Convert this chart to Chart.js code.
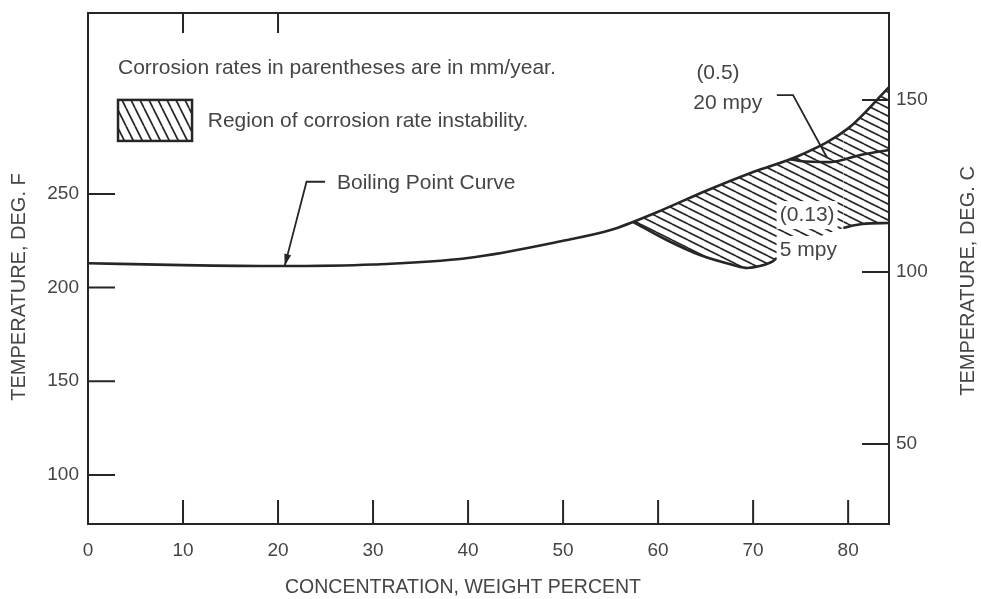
<!DOCTYPE html>
<html>
<head>
<meta charset="utf-8">
<title>Boiling point curve and corrosion rate instability</title>
<script src="https://cdn.jsdelivr.net/npm/chart.js@4.4.1/dist/chart.umd.min.js"></script>
<style>
    html, body { margin: 0; padding: 0; background: #fff; }
</style>
</head>
<body>
<canvas id="Corrosion-Chart" width="981" height="599"></canvas>
<script>
// concentration (weight percent) vs temperature (deg F)
const boilX = [0, 10, 20, 30, 40, 50, 55, 60, 65, 70, 75, 80, 84.3];
const boilF = [213, 212, 211.5, 212.3, 215.8, 225, 230.7, 240.5, 251.6, 261.7, 270.8, 285, 307];

// lower edge of the instability region (5 mpy side), gap between the two drawn pieces
const lowX = [57.4, 60.9, 64.4, 67.9, 69.4, 70.7, 72.1, 72.5, 79.5, 81.5, 84.3];
const lowF = [235, 225.4, 217.4, 212.1, 210.5, 211.5, 214.2, 215.8, 231.8, 234, 234.5];
const lowGap = 7; // segment 72.5 -> 79.5 is not drawn

// 20 mpy line
const midX = [73.9, 74.9, 78.1, 81.3, 84.3];
const midF = [268.6, 267.6, 267, 270.8, 273.5];

// leader lines
const boilLeadX = [24.95, 23.0, 20.7];
const boilLeadF = [256.5, 256.5, 211.6];
const midLeadX = [72.5, 74.2, 77.8];
const midLeadF = [302.8, 302.8, 269.2];

// tick labels
const xTicks = [0, 10, 20, 30, 40, 50, 60, 70, 80];
const topTicks = [10, 20];
const fTicks = [100, 150, 200, 250];
const cTicks = [50, 100, 150];

const ink = '#262626';
const textGrey = '#454545';
const fontFamily = '"Liberation Sans", Arial, sans-serif';

function hatch(w, h, lines) {
    const c = document.createElement('canvas');
    c.width = w; c.height = h;
    const g = c.getContext('2d');
    g.strokeStyle = ink;
    g.lineWidth = 1.7;
    g.beginPath();
    lines.forEach(l => { g.moveTo(l[0], l[1]); g.lineTo(l[2], l[3]); });
    g.stroke();
    return g.createPattern(c, 'repeat');
}
// shallow lines for the region, steep ones for the key box
const regionPattern = hatch(16, 8, [[0, -8, 16, 0], [0, 0, 16, 8], [0, 8, 16, 16]]);
const keyPattern = hatch(9, 18, [[-9, 0, 0, 18], [0, 0, 9, 18], [9, 0, 18, 18]]);

function pts(xs, ys) {
    return xs.map((v, i) => ({ x: v, y: ys[i] }));
}

const notes = [
    { text: 'Corrosion rates in parentheses are in mm/year.', x: 3.16, y: 317.2, align: 'left' },
    { text: 'Region of corrosion rate instability.', x: 12.6, y: 288.9, align: 'left' },
    { text: 'Boiling Point Curve', x: 26.2, y: 255.8, align: 'left' },
    { text: '(0.5)', x: 66.3, y: 314.6, align: 'center' },
    { text: '20 mpy', x: 63.7, y: 298.5, align: 'left' },
    { text: '(0.13)', x: 72.8, y: 238.7, align: 'left', knockout: true },
    { text: '5 mpy', x: 72.8, y: 220.1, align: 'left', knockout: true }
];
const keyBox = { x0: 3.16, x1: 10.95, y0: 300.2, y1: 278.3 };

const extras = {
    id: 'extras',
    afterDatasetsDraw(chart) {
        const { ctx, chartArea: a, scales } = chart;
        const { x, x2, y, y2 } = scales;
        ctx.save();

        // inward tick marks
        ctx.strokeStyle = ink;
        ctx.lineWidth = 2;
        ctx.beginPath();
        x.ticks.forEach(t => {
            if (t.value === 0) return;
            const px = x.getPixelForValue(t.value);
            ctx.moveTo(px, a.bottom); ctx.lineTo(px, a.bottom - 24);
        });
        topTicks.forEach(v => {
            const px = x2.getPixelForValue(v);
            ctx.moveTo(px, a.top); ctx.lineTo(px, a.top + 20);
        });
        y.ticks.forEach(t => {
            const py = y.getPixelForValue(t.value);
            ctx.moveTo(a.left, py); ctx.lineTo(a.left + 27, py);
        });
        y2.ticks.forEach(t => {
            const py = y2.getPixelForValue(t.value);
            ctx.moveTo(a.right, py); ctx.lineTo(a.right - 27, py);
        });
        ctx.stroke();

        // arrow head on the boiling point leader
        const n = boilLeadX.length;
        const tx = x.getPixelForValue(boilLeadX[n - 1]), ty = y.getPixelForValue(boilLeadF[n - 1]);
        const sx = x.getPixelForValue(boilLeadX[n - 2]), sy = y.getPixelForValue(boilLeadF[n - 2]);
        const len = Math.hypot(tx - sx, ty - sy);
        const dx = (tx - sx) / len, dy = (ty - sy) / len;
        ctx.fillStyle = ink;
        ctx.beginPath();
        ctx.moveTo(tx, ty);
        ctx.lineTo(tx - dx * 12 - dy * 3.5, ty - dy * 12 + dx * 3.5);
        ctx.lineTo(tx - dx * 12 + dy * 3.5, ty - dy * 12 - dx * 3.5);
        ctx.closePath();
        ctx.fill();

        // key box
        const bx0 = x.getPixelForValue(keyBox.x0), bx1 = x.getPixelForValue(keyBox.x1);
        const by0 = y.getPixelForValue(keyBox.y0), by1 = y.getPixelForValue(keyBox.y1);
        ctx.fillStyle = keyPattern;
        ctx.fillRect(bx0, by0, bx1 - bx0, by1 - by0);
        ctx.lineWidth = 2.5;
        ctx.strokeRect(bx0, by0, bx1 - bx0, by1 - by0);

        // notes
        ctx.font = '21px ' + fontFamily;
        ctx.textBaseline = 'middle';
        notes.forEach(nt => {
            const px = x.getPixelForValue(nt.x), py = y.getPixelForValue(nt.y);
            ctx.textAlign = nt.align;
            if (nt.knockout) {
                const w = ctx.measureText(nt.text).width;
                ctx.fillStyle = '#fff';
                ctx.fillRect(px - 3, py - 14, w + 6, 28);
            }
            ctx.fillStyle = textGrey;
            ctx.fillText(nt.text, px, py);
        });

        // axis titles; both vertical ones read bottom to top
        ctx.textAlign = 'center';
        ctx.font = '19.5px ' + fontFamily;
        ctx.fillText('CONCENTRATION, WEIGHT PERCENT', 463, 588);
        ctx.font = '20px ' + fontFamily;
        [['TEMPERATURE, DEG. F', 19, 287], ['TEMPERATURE, DEG. C', 968, 281]].forEach(t => {
            ctx.save();
            ctx.translate(t[1], t[2]);
            ctx.rotate(-Math.PI / 2);
            ctx.fillText(t[0], 0, 0);
            ctx.restore();
        });
        ctx.restore();
    }
};

function fixedTicks(list) {
    return scale => { scale.ticks = list.map(v => ({ value: v })); };
}
function fitTo(size) {
    return s => {
        if (s.isHorizontal()) { s.height = size; s.paddingLeft = 0; s.paddingRight = 0; }
        else { s.width = size; s.paddingTop = 0; s.paddingBottom = 0; }
    };
}

const axisBorder = { display: true, color: ink, width: 2 };
const tickFont = { family: fontFamily, size: 19 };

window.onload = function () {
    const ctx = document.getElementById('Corrosion-Chart').getContext('2d');

    const chart = new Chart(ctx, {
        type: 'line',
        data: {
            datasets: [
                {
                    label: 'Boiling Point Curve',
                    data: pts(boilX, boilF),
                    borderColor: ink,
                    borderWidth: 2.6,
                    cubicInterpolationMode: 'monotone',
                    pointRadius: 0,
                    fill: false
                },
                {
                    label: 'Instability lower edge',
                    data: pts(lowX, lowF),
                    borderColor: ink,
                    borderWidth: 2.6,
                    cubicInterpolationMode: 'monotone',
                    pointRadius: 0,
                    backgroundColor: regionPattern,
                    fill: 0,
                    segment: {
                        borderColor: c => (c.p0DataIndex === lowGap ? 'rgba(0,0,0,0)' : ink)
                    }
                },
                {
                    label: '20 mpy',
                    data: pts(midX, midF),
                    borderColor: ink,
                    borderWidth: 2.6,
                    cubicInterpolationMode: 'monotone',
                    pointRadius: 0,
                    fill: false
                },
                {
                    label: 'leader',
                    data: pts(boilLeadX, boilLeadF),
                    borderColor: ink,
                    borderWidth: 1.8,
                    tension: 0,
                    pointRadius: 0,
                    fill: false
                },
                {
                    label: 'leader 20 mpy',
                    data: pts(midLeadX, midLeadF),
                    borderColor: ink,
                    borderWidth: 1.8,
                    tension: 0,
                    pointRadius: 0,
                    fill: false
                }
            ]
        },
        options: {
            responsive: false,
            animation: false,
            devicePixelRatio: 1,
            layout: { padding: 0 },
            plugins: {
                legend: { display: false },
                tooltip: { enabled: false }
            },
            scales: {
                x: {
                    type: 'linear',
                    position: 'bottom',
                    min: 0,
                    max: 84.3,
                    afterBuildTicks: fixedTicks(xTicks),
                    afterFit: fitTo(75),
                    grid: { display: false, drawTicks: false },
                    border: axisBorder,
                    ticks: { font: tickFont, color: textGrey, padding: 15 }
                },
                x2: {
                    type: 'linear',
                    position: 'top',
                    min: 0,
                    max: 84.3,
                    afterBuildTicks: fixedTicks(topTicks),
                    afterFit: fitTo(13),
                    grid: { display: false, drawTicks: false },
                    border: axisBorder,
                    ticks: { display: false }
                },
                y: {
                    type: 'linear',
                    position: 'left',
                    min: 73.8,
                    max: 346.6,
                    afterBuildTicks: fixedTicks(fTicks),
                    afterFit: fitTo(88),
                    grid: { display: false, drawTicks: false },
                    border: axisBorder,
                    ticks: { font: tickFont, color: textGrey, padding: 9 }
                },
                y2: {
                    type: 'linear',
                    position: 'right',
                    min: 26.7,
                    max: 175.3,
                    afterBuildTicks: fixedTicks(cTicks),
                    afterFit: fitTo(92),
                    grid: { display: false, drawTicks: false },
                    border: axisBorder,
                    ticks: { font: tickFont, color: textGrey, padding: 7 }
                }
            }
        },
        plugins: [extras]
    });
};
</script>
</body>
</html>
